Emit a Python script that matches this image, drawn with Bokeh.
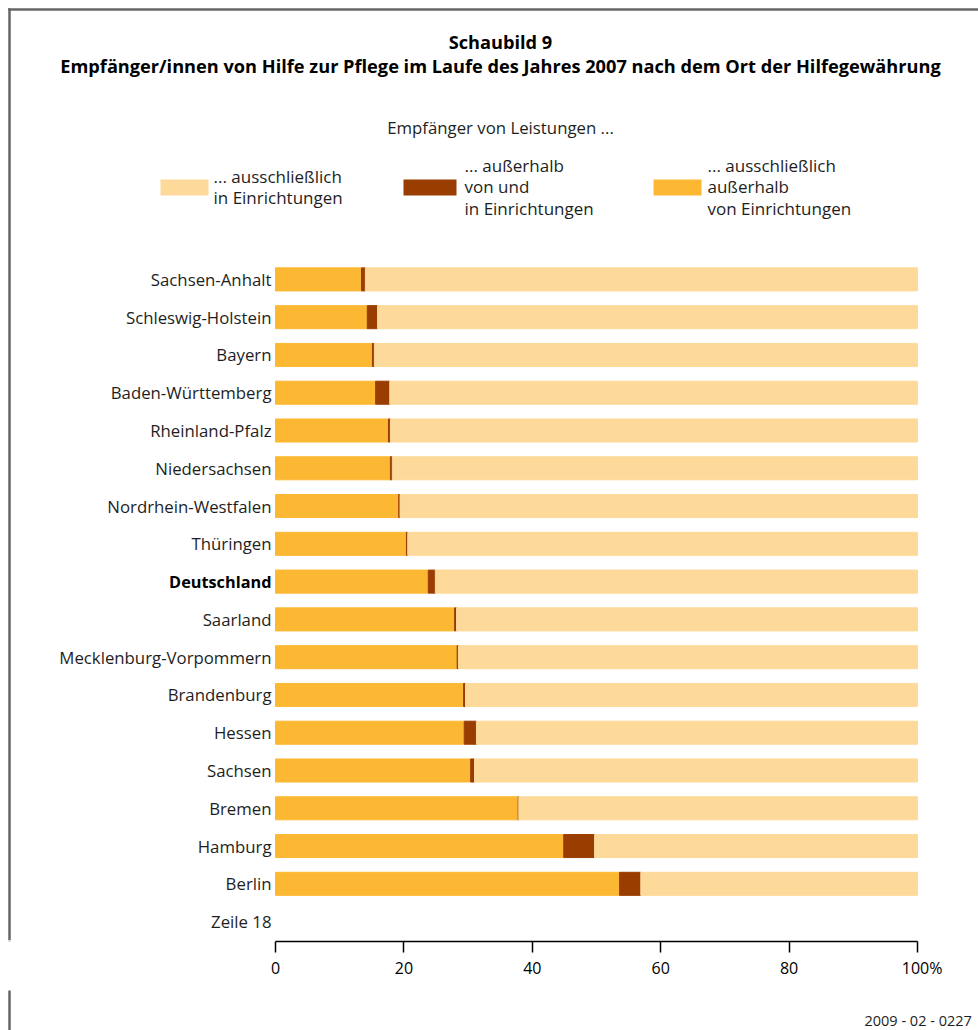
from bokeh.plotting import figure
from bokeh.layouts import column, row
from bokeh.models import Range1d, ColumnDataSource, FixedTicker
from bokeh.core.properties import value
from bokeh.embed import file_html
from bokeh.resources import INLINE

# ---------------- data ----------------
laender = ["Sachsen-Anhalt", "Schleswig-Holstein", "Bayern", "Baden-Württemberg",
           "Rheinland-Pfalz", "Niedersachsen", "Nordrhein-Westfalen", "Thüringen",
           "Deutschland", "Saarland", "Mecklenburg-Vorpommern", "Brandenburg",
           "Hessen", "Sachsen", "Bremen", "Hamburg", "Berlin"]
# ... ausschließlich außerhalb von Einrichtungen (%)
ausserhalb = [13.4, 14.3, 15.1, 15.6, 17.6, 17.9, 19.2, 20.4, 23.8, 27.9, 28.3, 29.3,
              29.4, 30.4, 37.8, 44.9, 53.6]
# ... außerhalb von und in Einrichtungen (%)
beide = [0.6, 1.6, 0.3, 2.2, 0.3, 0.3, 0.2, 0.2, 1.1, 0.3, 0.2, 0.3, 1.9, 0.6, 0.1, 4.8, 3.3]
# ... ausschließlich in Einrichtungen (%)
innerhalb = [86.0, 84.1, 84.6, 82.2, 82.1, 81.8, 80.6, 79.4, 75.1, 71.8, 71.5, 70.4,
             68.7, 69.0, 62.1, 50.3, 43.1]
zeile_label = "Zeile 18"
x_ticks = [0, 20, 40, 60, 80, 100]
x_tick_labels = {100: "\u2007100%"}

title1 = "Schaubild 9"
title2 = "Empfänger/innen von Hilfe zur Pflege im Laufe des Jahres 2007 nach dem Ort der Hilfegewährung"
legend_head = "Empfänger von Leistungen ..."
legend_items = [
    ["... ausschließlich", "in Einrichtungen"],
    ["... außerhalb", "von und", "in Einrichtungen"],
    ["... ausschließlich", "außerhalb", "von Einrichtungen"],
]
footer = "2009 - 02 - 0227"

C_LIGHT = "#FDDA9A"
C_DARK = "#9A3D00"
C_ORANGE = "#FDB833"
C_TEXT = "#1e1e1e"
C_BORDER = "#666666"
FONT = "Open Sans"

# ---------------- layout (page pixels) ----------------
W = 978
FL, FR, FT, FB = 275, 917, 260, 940
H_AXIS = 50
H_FOOT = 1030 - FB - H_AXIS
PAD = 12  # room left of the x axis for its first tick label
rows = laender + [zeile_label]
NR = len(rows)
row_h = (FB - FT) / NR
pct_px = (FR - FL) / 100.0

common = dict(output_backend="svg", toolbar_location=None,
              x_axis_location=None, y_axis_location=None,
              outline_line_color=None, background_fill_color="white",
              border_fill_color="white")

# ---- main drawing area (title, legend, bars, row labels) ----
p = figure(width=W, height=FB, x_range=Range1d(0, W), y_range=Range1d(FB, 0),
           min_border=0, **common)
p.grid.visible = False
# scales for the bars: percent along x, row index along y
p.extra_x_ranges = {"pct": Range1d(-FL / pct_px, (W - FL) / pct_px)}
p.extra_y_ranges = {"rows": Range1d(FB / row_h - FT / row_h, -FT / row_h)}

pos = [i + 0.5 for i in range(len(laender))]
src = ColumnDataSource(dict(pos=pos, ausserhalb=ausserhalb, beide=beide,
                            innerhalb=innerhalb))
p.hbar_stack(["ausserhalb", "beide", "innerhalb"], y="pos", height=0.61,
             color=[C_ORANGE, C_DARK, C_LIGHT], source=src,
             x_range_name="pct", y_range_name="rows")

# row labels (right aligned next to the bars)
normal = [r for r in rows if r != "Deutschland"]
p.text(x=[FL - 4] * len(normal), y=[rows.index(r) + 0.5 for r in normal], text=normal,
       y_range_name="rows", text_align="right", text_baseline="middle",
       text_font=value(FONT), text_font_size="16.8px", text_color=C_TEXT)
p.text(x=[FL - 4], y=[rows.index("Deutschland") + 0.5], text=["Deutschland"],
       y_range_name="rows", text_align="right", text_baseline="middle",
       text_font=value(FONT), text_font_size="16.3px", text_font_style="bold",
       text_color="black")

# titles
p.text(x=[500, 500], y=[41, 65], text=[title1, title2], text_align="center",
       text_baseline="middle", text_font=value(FONT), text_font_size="18.2px",
       text_font_style="bold", text_color="black")
p.text(x=[500], y=[127], text=[legend_head], text_align="center",
       text_baseline="middle", text_font=value(FONT), text_font_size="16.8px",
       text_color=C_TEXT)

# legend
sw_left = [160, 403, 653]
sw_right = [208, 456, 701]
sw_col = [C_LIGHT, C_DARK, C_ORANGE]
p.quad(left=sw_left, right=sw_right, top=[179] * 3, bottom=[195] * 3,
       fill_color=sw_col, line_color=None)
tx = [213, 464, 707]
ly = [[176, 197], [165, 186, 208], [165, 186, 208]]
lx, lyy, lt = [], [], []
for x0, lines, ys in zip(tx, legend_items, ly):
    for t, yy in zip(lines, ys):
        lx.append(x0)
        lyy.append(yy)
        lt.append(t)
p.text(x=lx, y=lyy, text=lt, text_align="left", text_baseline="middle",
       text_font=value(FONT), text_font_size="17px", text_color=C_TEXT)

# outer frame (top and left edges)
p.quad(left=[7.75, 7.75], right=[W + 5, 10.25], top=[7.75, 7.75], bottom=[10.25, FB + 5],
       fill_color=C_BORDER, line_color=None)

# ---- axis strip: left part carries the frame edge, right part the x axis ----
SW = FL - PAD
strip = figure(width=SW, height=H_AXIS, x_range=Range1d(0, SW),
               y_range=Range1d(H_AXIS, 0), min_border=0, **common)
strip.grid.visible = False
strip.quad(left=[7.75], right=[10.25], top=[-5], bottom=[H_AXIS + 5],
           fill_color=C_BORDER, line_color=None)

ax = figure(width=W - SW, height=H_AXIS,
            x_range=Range1d(-PAD / pct_px, (W - FL) / pct_px),
            y_range=Range1d(0, 1), min_border_left=0, min_border_right=0,
            min_border_top=0, min_border_bottom=H_AXIS - 1,
            output_backend="svg", toolbar_location=None, y_axis_location=None,
            outline_line_color=None, background_fill_color="white",
            border_fill_color="white")
ax.grid.visible = False
xa = ax.xaxis[0]
xa.ticker = FixedTicker(ticks=x_ticks)
xa.bounds = (0, 100)
xa.minor_tick_line_color = None
xa.major_tick_in = 0
xa.major_tick_out = 11
xa.axis_line_color = "black"
xa.axis_line_width = 1.5
xa.major_tick_line_color = "black"
xa.major_tick_line_width = 1.5
xa.major_label_text_font = FONT
xa.major_label_text_font_size = "16px"
xa.major_label_text_color = "black"
xa.major_label_standoff = 4
xa.major_label_overrides = x_tick_labels

# ---- footer strip ----
f = figure(width=W, height=H_FOOT, x_range=Range1d(0, W),
           y_range=Range1d(1030, FB + H_AXIS), min_border=0, **common)
f.grid.visible = False
f.quad(left=[7.75], right=[10.25], top=[FB + H_AXIS - 5], bottom=[1035],
       fill_color=C_BORDER, line_color=None)
f.text(x=[864], y=[1020], text=[footer], text_align="left", text_baseline="middle",
       text_font=value(FONT), text_font_size="14.5px", text_color=C_TEXT)

layout = column(p, row(strip, ax, spacing=0), f, spacing=0)
open("out.html", "w").write(file_html(layout, INLINE))
